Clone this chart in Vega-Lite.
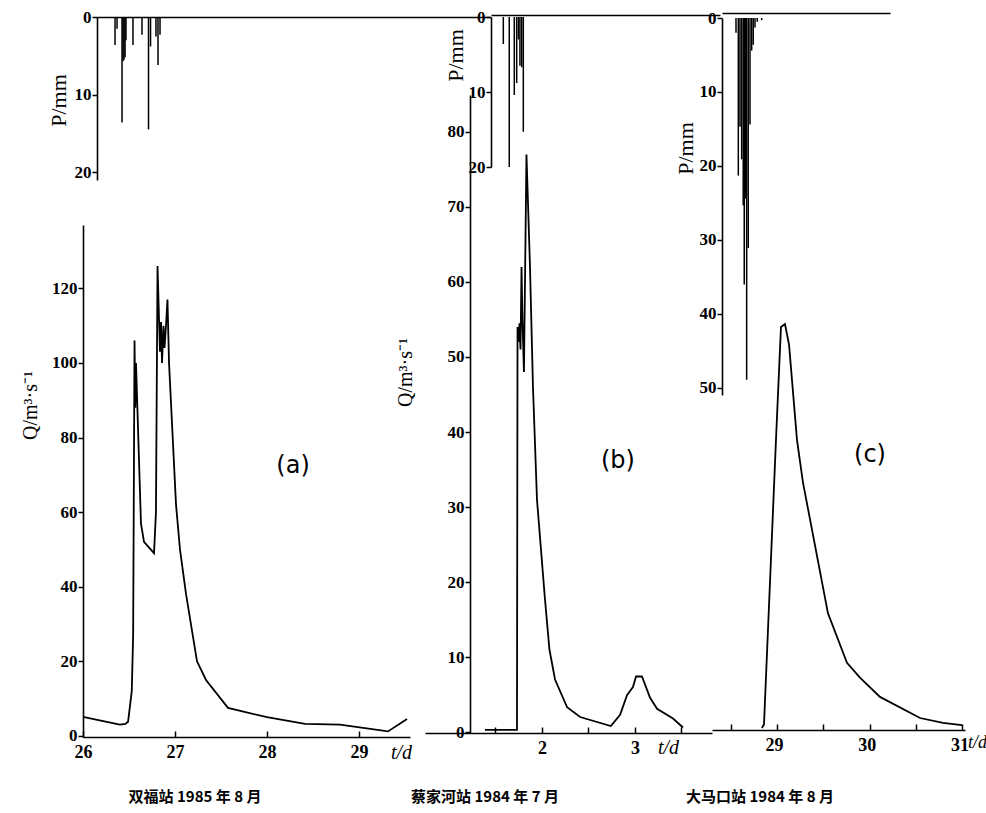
{
  "$schema": "https://vega.github.io/schema/vega-lite/v6.json",
  "width": 986,
  "height": 813,
  "autosize": {"type": "none"},
  "padding": 0,
  "background": "white",
  "config": {
    "view": {"stroke": null},
    "axis": {
      "domainColor": "black", "domainWidth": 1.6, "tickColor": "black", "tickWidth": 1.5,
      "labelColor": "black", "labelFont": "Liberation Serif", "labelFontSize": 17, "labelFontWeight": "bold",
      "titleColor": "black", "titleFont": "Liberation Serif", "titleFontSize": 20, "titleFontWeight": "normal",
      "grid": false
    }
  },
  "datasets": {
    "aP": [
      {"t": 26.348, "P": 3.6}, {"t": 26.37, "P": 1.5}, {"t": 26.424, "P": 13.6}, {"t": 26.435, "P": 5.7},
      {"t": 26.446, "P": 5.5}, {"t": 26.457, "P": 5.2}, {"t": 26.467, "P": 3.0}, {"t": 26.543, "P": 3.6},
      {"t": 26.641, "P": 2.3}, {"t": 26.712, "P": 14.5}, {"t": 26.734, "P": 3.8}, {"t": 26.793, "P": 2.5},
      {"t": 26.815, "P": 6.2}, {"t": 26.837, "P": 2.3}
    ],
    "aQ": [
      {"t": 26.0, "Q": 5.1}, {"t": 26.4, "Q": 3.0}, {"t": 26.46, "Q": 3.2}, {"t": 26.49, "Q": 3.8},
      {"t": 26.53, "Q": 12}, {"t": 26.545, "Q": 27}, {"t": 26.56, "Q": 106}, {"t": 26.568, "Q": 88},
      {"t": 26.576, "Q": 100}, {"t": 26.63, "Q": 57}, {"t": 26.663, "Q": 52}, {"t": 26.772, "Q": 49},
      {"t": 26.793, "Q": 60}, {"t": 26.81, "Q": 126}, {"t": 26.826, "Q": 112}, {"t": 26.837, "Q": 103},
      {"t": 26.848, "Q": 111}, {"t": 26.859, "Q": 100}, {"t": 26.875, "Q": 110}, {"t": 26.886, "Q": 104},
      {"t": 26.902, "Q": 110}, {"t": 26.918, "Q": 117}, {"t": 26.935, "Q": 100}, {"t": 27.011, "Q": 62},
      {"t": 27.054, "Q": 50}, {"t": 27.12, "Q": 38}, {"t": 27.239, "Q": 20}, {"t": 27.337, "Q": 15},
      {"t": 27.576, "Q": 7.5}, {"t": 28.0, "Q": 5}, {"t": 28.413, "Q": 3.2}, {"t": 28.793, "Q": 3.0},
      {"t": 29.315, "Q": 1.2}, {"t": 29.522, "Q": 4.5}
    ],
    "bP": [
      {"t": 1.584, "P": 3.6}, {"t": 1.648, "P": 20.0}, {"t": 1.702, "P": 10.4}, {"t": 1.728, "P": 8.8},
      {"t": 1.747, "P": 3.0}, {"t": 1.763, "P": 6.5}, {"t": 1.782, "P": 6.7}, {"t": 1.799, "P": 15.3}
    ],
    "bQ": [
      {"t": 1.387, "Q": 0.3}, {"t": 1.731, "Q": 0.3}, {"t": 1.737, "Q": 54}, {"t": 1.747, "Q": 52},
      {"t": 1.758, "Q": 54.5}, {"t": 1.769, "Q": 51}, {"t": 1.78, "Q": 62}, {"t": 1.79, "Q": 55},
      {"t": 1.806, "Q": 48}, {"t": 1.833, "Q": 77}, {"t": 1.871, "Q": 62}, {"t": 1.903, "Q": 46},
      {"t": 1.946, "Q": 31}, {"t": 2.03, "Q": 18}, {"t": 2.08, "Q": 11}, {"t": 2.14, "Q": 7},
      {"t": 2.27, "Q": 3.3}, {"t": 2.41, "Q": 2.0}, {"t": 2.74, "Q": 0.8}, {"t": 2.84, "Q": 2.3},
      {"t": 2.914, "Q": 4.9}, {"t": 2.978, "Q": 6}, {"t": 3.011, "Q": 7.4}, {"t": 3.075, "Q": 7.4},
      {"t": 3.161, "Q": 4.6}, {"t": 3.237, "Q": 3.1}, {"t": 3.409, "Q": 1.8}, {"t": 3.516, "Q": 0.6}
    ],
    "cP": [
      {"t": 28.558, "P": 2}, {"t": 28.583, "P": 21.3}, {"t": 28.601, "P": 14.7}, {"t": 28.619, "P": 19.1},
      {"t": 28.636, "P": 25.3}, {"t": 28.647, "P": 36}, {"t": 28.658, "P": 24.4}, {"t": 28.673, "P": 48.9},
      {"t": 28.69, "P": 31.1}, {"t": 28.709, "P": 14.4}, {"t": 28.727, "P": 4.4}, {"t": 28.744, "P": 3.6},
      {"t": 28.763, "P": 1.3}, {"t": 28.787, "P": 0.5}, {"t": 28.835, "P": 0.3}
    ],
    "cQ": [
      {"t": 28.838, "Q": 0}, {"t": 28.86, "Q": 0.5}, {"t": 28.989, "Q": 38.9}, {"t": 29.043, "Q": 54.2},
      {"t": 29.086, "Q": 54.6}, {"t": 29.13, "Q": 51.8}, {"t": 29.216, "Q": 38.9}, {"t": 29.28, "Q": 33.2},
      {"t": 29.55, "Q": 15.5}, {"t": 29.755, "Q": 8.8}, {"t": 29.895, "Q": 6.8}, {"t": 30.111, "Q": 4.2},
      {"t": 30.543, "Q": 1.35}, {"t": 30.79, "Q": 0.68}, {"t": 30.996, "Q": 0.4}
    ],
    "aLab": [{"t": 28.283, "Q": 72.4, "txt": "(a)"}],
    "bLab": [{"t": 2.817, "Q": 36.1, "txt": "(b)"}],
    "cLab": [{"t": 30.003, "Q": 36.9, "txt": "(c)"}],
    "aCap": [{"t": 27.217, "Q": -16.35, "txt": "双福站 1985 年 8 月"}],
    "bCap": [{"t": 1.387, "Q": -8.67, "txt": "蔡家河站 1984 年 7 月"}],
    "cCap": [{"t": 28.817, "Q": -9.32, "txt": "大马口站 1984 年 8 月"}]
  },
  "layer": [
    {
      "data": {"name": "aP"},
      "mark": {"type": "rule", "color": "black", "strokeWidth": 1.5},
      "encoding": {
        "x": {"field": "t", "type": "quantitative",
          "scale": {"domain": [26.152, 30.424], "range": [97, 490], "nice": false, "zero": false},
          "axis": {"orient": "top", "offset": -17, "ticks": false, "labels": false, "title": null}},
        "y": {"field": "P", "type": "quantitative",
          "scale": {"domain": [0, 21.03], "range": [17, 180], "nice": false, "zero": false},
          "axis": {"orient": "left", "offset": -97, "values": [0, 10, 20], "tickSize": 5, "labelPadding": 1, "labelOverlap": false,
            "title": "P/mm", "titleX": -39, "titleY": 100, "titleAngle": 270, "titleAlign": "center", "titleBaseline": "middle", "titleFontSize": 22}},
        "y2": {"datum": 0}
      }
    },
    {
      "data": {"name": "aQ"},
      "mark": {"type": "line", "color": "black", "strokeWidth": 1.8},
      "encoding": {
        "x": {"field": "t", "type": "quantitative",
          "scale": {"domain": [26, 29.554], "range": [83, 410], "nice": false, "zero": false},
          "axis": {"orient": "bottom", "offset": -76, "values": [26, 26.5, 27, 27.5, 28, 28.5, 29, 29.5],
            "format": "d", "labelExpr": "datum.value % 1 === 0 ? datum.label : ''", "labelOverlap": false, "labelFlush": false,
            "tickSize": -6, "labelPadding": 12, "labelFontSize": 18,
            "title": "t/d", "titleX": 401, "titleY": 15, "titleAlign": "center", "titleBaseline": "middle", "titleFontStyle": "italic"}},
        "y": {"field": "Q", "type": "quantitative",
          "scale": {"domain": [-0.3, 137], "range": [737, 225], "nice": false, "zero": false},
          "axis": {"orient": "left", "offset": -83, "values": [0, 20, 40, 60, 80, 100, 120], "tickSize": 5, "labelPadding": 1, "labelOverlap": false,
            "title": "Q/m³·s⁻¹", "titleX": -53, "titleY": 405, "titleAngle": 270, "titleAlign": "center", "titleBaseline": "middle"}}
      }
    },
    {
      "data": {"name": "bP"},
      "mark": {"type": "rule", "color": "black", "strokeWidth": 1.5},
      "encoding": {
        "x": {"field": "t", "type": "quantitative",
          "scale": {"domain": [1.4516, 3.914], "range": [491, 720], "nice": false, "zero": false},
          "axis": {"orient": "top", "offset": -15, "ticks": false, "labels": false, "title": null}},
        "y": {"field": "P", "type": "quantitative",
          "scale": {"domain": [0, 20], "range": [17, 167], "nice": false, "zero": false},
          "axis": {"orient": "left", "offset": -491, "values": [0, 10, 20], "tickSize": 5, "labelPadding": 1, "labelOverlap": false,
            "title": "P/mm", "titleX": -36, "titleY": 55, "titleAngle": 270, "titleAlign": "center", "titleBaseline": "middle", "titleFontSize": 22}},
        "y2": {"datum": 0}
      }
    },
    {
      "data": {"name": "bQ"},
      "mark": {"type": "line", "color": "black", "strokeWidth": 1.8},
      "encoding": {
        "x": {"field": "t", "type": "quantitative",
          "scale": {"domain": [0.742, 3.828], "range": [425, 712], "nice": false, "zero": false},
          "axis": {"orient": "bottom", "offset": -80, "values": [2, 3],
            "format": "d", "labelOverlap": false, "labelFlush": false,
            "tickSize": -6, "labelPadding": 12, "labelFontSize": 18,
            "title": "t/d", "titleX": 668, "titleY": 14, "titleAlign": "center", "titleBaseline": "middle", "titleFontStyle": "italic"}},
        "y": {"field": "Q", "type": "quantitative",
          "scale": {"domain": [-0.13, 84.93], "range": [733, 95], "nice": false, "zero": false},
          "axis": {"orient": "left", "offset": -470, "values": [0, 10, 20, 30, 40, 50, 60, 70, 80], "tickSize": 5, "labelPadding": 1, "labelOverlap": false,
            "title": "Q/m³·s⁻¹", "titleX": -65, "titleY": 372, "titleAngle": 270, "titleAlign": "center", "titleBaseline": "middle"}}
      }
    },
    {
      "data": {"name": "cP"},
      "mark": {"type": "rule", "color": "black", "strokeWidth": 1.5},
      "encoding": {
        "x": {"field": "t", "type": "quantitative",
          "scale": {"domain": [28.407, 30.219], "range": [722, 890], "nice": false, "zero": false},
          "axis": {"orient": "top", "offset": -13, "ticks": false, "labels": false, "title": null}},
        "y": {"field": "P", "type": "quantitative",
          "scale": {"domain": [0, 50.95], "range": [18, 395], "nice": false, "zero": false},
          "axis": {"orient": "left", "offset": -722, "values": [0, 10, 20, 30, 40, 50], "tickSize": 5, "labelPadding": 1, "labelOverlap": false,
            "title": "P/mm", "titleX": -37, "titleY": 148, "titleAngle": 270, "titleAlign": "center", "titleBaseline": "middle", "titleFontSize": 22}},
        "y2": {"datum": 0}
      }
    },
    {
      "data": {"name": "cQ"},
      "mark": {"type": "line", "color": "black", "strokeWidth": 1.8},
      "encoding": {
        "x": {"field": "t", "type": "quantitative",
          "scale": {"domain": [28.299, 31.028], "range": [712, 965], "nice": false, "zero": false},
          "axis": {"orient": "bottom", "offset": -83, "values": [29, 30, 31],
            "format": "d", "labelOverlap": false, "labelFlush": false, "labelOffset": -3,
            "tickSize": -6, "labelPadding": 12, "labelFontSize": 18,
            "title": "t/d", "titleX": 977, "titleY": 12, "titleAlign": "center", "titleBaseline": "middle", "titleFontStyle": "italic", "titleFontSize": 18}},
        "y": {"field": "Q", "type": "quantitative",
          "scale": {"domain": [-0.27, 96.35], "range": [730, 15], "nice": false, "zero": false},
          "axis": null}
      }
    },
    {
      "data": {"name": "aLab"},
      "mark": {"type": "text", "font": "DejaVu Sans", "fontSize": 24, "color": "black", "align": "center", "baseline": "middle"},
      "encoding": {
        "x": {"field": "t", "type": "quantitative", "scale": {"domain": [26, 29.554], "range": [83, 410], "nice": false, "zero": false}, "axis": null},
        "y": {"field": "Q", "type": "quantitative", "scale": {"domain": [-0.3, 137], "range": [737, 225], "nice": false, "zero": false}, "axis": null},
        "text": {"field": "txt"}
      }
    },
    {
      "data": {"name": "bLab"},
      "mark": {"type": "text", "font": "DejaVu Sans", "fontSize": 24, "color": "black", "align": "center", "baseline": "middle"},
      "encoding": {
        "x": {"field": "t", "type": "quantitative", "scale": {"domain": [0.742, 3.828], "range": [425, 712], "nice": false, "zero": false}, "axis": null},
        "y": {"field": "Q", "type": "quantitative", "scale": {"domain": [-0.13, 84.93], "range": [733, 95], "nice": false, "zero": false}, "axis": null},
        "text": {"field": "txt"}
      }
    },
    {
      "data": {"name": "cLab"},
      "mark": {"type": "text", "font": "DejaVu Sans", "fontSize": 24, "color": "black", "align": "center", "baseline": "middle"},
      "encoding": {
        "x": {"field": "t", "type": "quantitative", "scale": {"domain": [28.299, 31.028], "range": [712, 965], "nice": false, "zero": false}, "axis": null},
        "y": {"field": "Q", "type": "quantitative", "scale": {"domain": [-0.27, 96.35], "range": [730, 15], "nice": false, "zero": false}, "axis": null},
        "text": {"field": "txt"}
      }
    },
    {
      "data": {"name": "aCap"},
      "mark": {"type": "text", "font": "Noto Sans CJK SC", "fontSize": 15, "fontWeight": "bold", "color": "black", "align": "center", "baseline": "middle"},
      "encoding": {
        "x": {"field": "t", "type": "quantitative", "scale": {"domain": [26, 29.554], "range": [83, 410], "nice": false, "zero": false}, "axis": null},
        "y": {"field": "Q", "type": "quantitative", "scale": {"domain": [-0.3, 137], "range": [737, 225], "nice": false, "zero": false}, "axis": null},
        "text": {"field": "txt"}
      }
    },
    {
      "data": {"name": "bCap"},
      "mark": {"type": "text", "font": "Noto Sans CJK SC", "fontSize": 15, "fontWeight": "bold", "color": "black", "align": "center", "baseline": "middle"},
      "encoding": {
        "x": {"field": "t", "type": "quantitative", "scale": {"domain": [0.742, 3.828], "range": [425, 712], "nice": false, "zero": false},
          "axis": {"orient": "bottom", "offset": -80, "values": [1.5, 2.5, 3.5], "labels": false, "domain": false, "tickSize": -6, "title": null}},
        "y": {"field": "Q", "type": "quantitative", "scale": {"domain": [-0.13, 84.93], "range": [733, 95], "nice": false, "zero": false}, "axis": null},
        "text": {"field": "txt"}
      }
    },
    {
      "data": {"name": "cCap"},
      "mark": {"type": "text", "font": "Noto Sans CJK SC", "fontSize": 15, "fontWeight": "bold", "color": "black", "align": "center", "baseline": "middle"},
      "encoding": {
        "x": {"field": "t", "type": "quantitative", "scale": {"domain": [28.299, 31.028], "range": [712, 965], "nice": false, "zero": false},
          "axis": {"orient": "bottom", "offset": -83, "values": [28.5, 29.5, 30.5], "labels": false, "domain": false, "tickSize": -6, "title": null}},
        "y": {"field": "Q", "type": "quantitative", "scale": {"domain": [-0.27, 96.35], "range": [730, 15], "nice": false, "zero": false}, "axis": null},
        "text": {"field": "txt"}
      }
    }
  ],
  "resolve": {
    "scale": {"x": "independent", "y": "independent"},
    "axis": {"x": "independent", "y": "independent"}
  }
}
